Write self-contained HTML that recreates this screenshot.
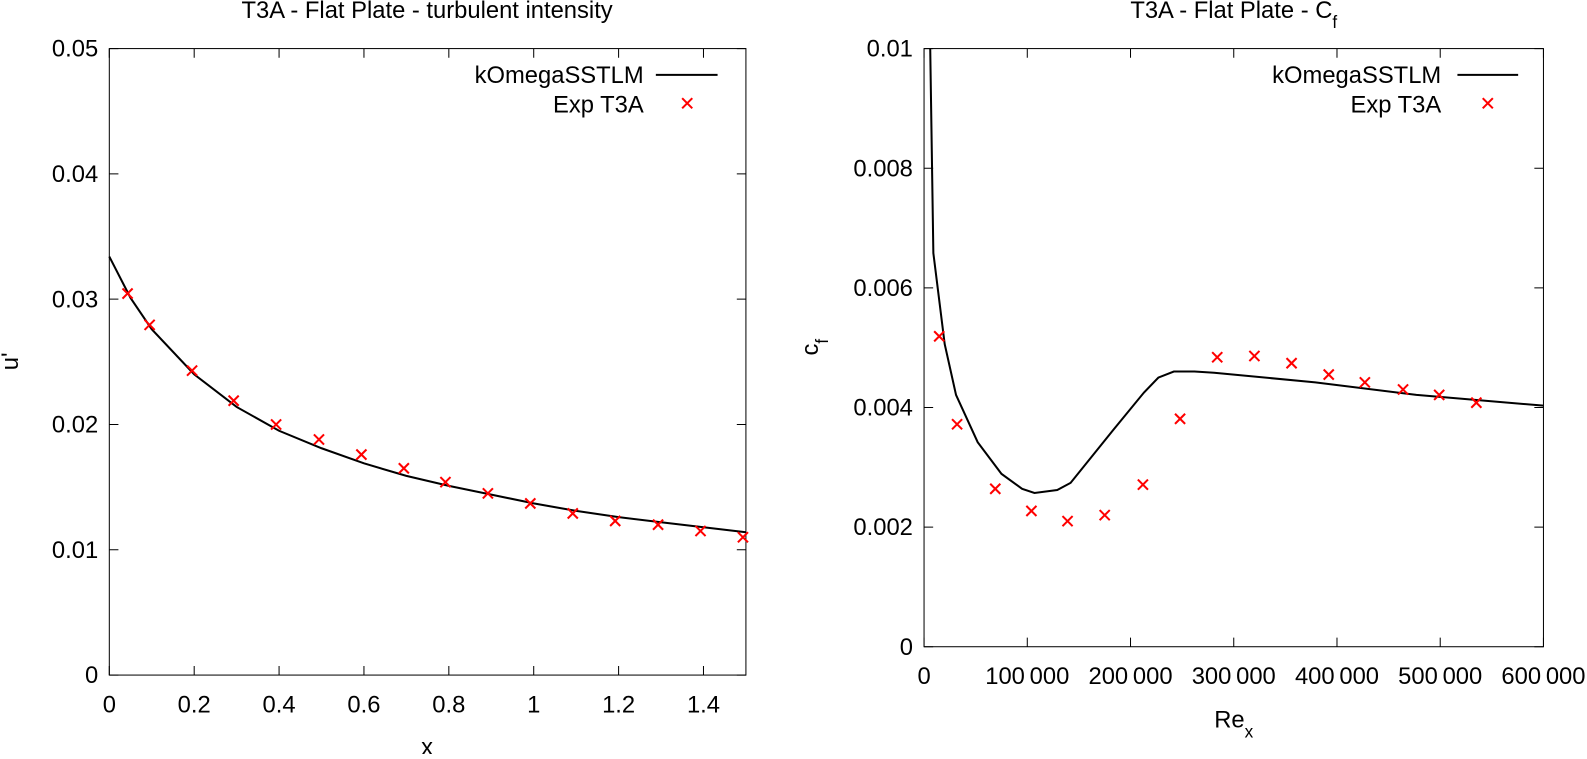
<!DOCTYPE html>
<html><head><meta charset="utf-8"><style>
body{margin:0;background:#fff}
svg text{font-family:"Liberation Sans",sans-serif;font-size:23.5px;fill:#000}
</style></head><body>
<svg width="1587" height="754"><g id="s" transform="scale(1.0121)"></g></svg>
<script>
// Left chart data
const leftCurveX=[0,0.05,0.1,0.2,0.3,0.4,0.5,0.6,0.7,0.8,0.9,1.0,1.1,1.2,1.3,1.4,1.5];
const leftCurveY=[0.0334,0.0301,0.0276,0.0240,0.0214,0.0195,0.0181,0.0169,0.0159,0.0151,0.0144,0.0137,0.0131,0.0126,0.0122,0.0118,0.0114];
const leftExpX=[0.043,0.095,0.195,0.293,0.393,0.494,0.594,0.694,0.792,0.892,0.992,1.092,1.192,1.293,1.393,1.493];
const leftExpY=[0.03045,0.02795,0.0243,0.0219,0.0200,0.0188,0.0176,0.0165,0.0154,0.0145,0.0137,0.0129,0.0123,0.0120,0.0115,0.0110];
const leftXTicks=[0,0.2,0.4,0.6,0.8,1,1.2,1.4];
const leftXTickLabels=["0","0.2","0.4","0.6","0.8","1","1.2","1.4"];
const leftYTicks=[0,0.01,0.02,0.03,0.04,0.05];
const leftYTickLabels=["0","0.01","0.02","0.03","0.04","0.05"];
// Right chart data
const rightCurveX=[6000,9000,20000,31000,52000,75000,95000,107000,129000,142000,183000,213000,227000,242000,262000,281000,379000,477000,600000];
const rightCurveY=[0.01,0.00658,0.00506,0.00421,0.00342,0.00289,0.00264,0.00257,0.00262,0.00274,0.00362,0.00425,0.0045,0.0046,0.0046,0.00458,0.00442,0.00421,0.00403];
const rightExpX=[14700,32000,69000,104000,139000,175000,212000,248000,284000,320000,356000,392000,427000,464000,499000,535000];
const rightExpY=[0.00519,0.00372,0.00264,0.00227,0.00210,0.00220,0.00271,0.00381,0.00484,0.00486,0.00474,0.00455,0.00442,0.00430,0.00421,0.00408];
const rightXTicks=[0,100000,200000,300000,400000,500000,600000];
const rightXTickLabels=["0","100\u2009000","200\u2009000","300\u2009000","400\u2009000","500\u2009000","600\u2009000"];
const rightYTicks=[0,0.002,0.004,0.006,0.008,0.01];
const rightYTickLabels=["0","0.002","0.004","0.006","0.008","0.01"];

const S=document.getElementById('s');const NS='http://www.w3.org/2000/svg';
function mk(t,a,txt){const e=document.createElementNS(NS,t);for(const k in a)e.setAttribute(k,a[k]);if(txt!==undefined)e.textContent=txt;S.appendChild(e);return e;}
function plot(p){
 const sx=v=>p.x0+(v-p.xmin)/(p.xmax-p.xmin)*(p.x1-p.x0);
 const sy=v=>p.y0-(v-p.ymin)/(p.ymax-p.ymin)*(p.y0-p.y1);
 let f=mk('rect',{x:p.x0,y:p.y1,width:p.x1-p.x0,height:p.y0-p.y1,fill:'none',stroke:'#000','stroke-width':1});
 
 p.xt.forEach((v,i)=>{const x=sx(v);
  let t=mk('path',{d:`M${x},${p.y0}v-9M${x},${p.y1}v9`,stroke:'#000'});
  let l=mk('text',{x:x,y:p.y0+37,'text-anchor':'middle'},p.xl[i]);});
 p.yt.forEach((v,i)=>{const y=sy(v);
  let t=mk('path',{d:`M${p.x0},${y}h9M${p.x1},${y}h-9`,stroke:'#000'});
  let l=mk('text',{x:p.x0-11,y:y+8,'text-anchor':'end'},p.yl[i]);});
 let d=p.cx.map((v,i)=>(i?'L':'M')+sx(v).toFixed(1)+','+sy(p.cy[i]).toFixed(1)).join('');
 let c=mk('path',{d:d,fill:'none',stroke:'#000','stroke-width':2});
 p.ex.forEach((v,i)=>{const x=sx(v),y=sy(p.ey[i]);
  let m=mk('path',{d:`M${x-5},${y-5}L${x+5},${y+5}M${x-5},${y+5}L${x+5},${y-5}`,stroke:'#f00','stroke-width':2});});
}
plot({n:'left',x0:108,x1:737,y0:667,y1:48,xmin:0,xmax:1.5,ymin:0,ymax:0.05,xt:leftXTicks,xl:leftXTickLabels,yt:leftYTicks,yl:leftYTickLabels,cx:leftCurveX,cy:leftCurveY,ex:leftExpX,ey:leftExpY});
plot({n:'right',x0:913,x1:1525,y0:639,y1:48,xmin:0,xmax:600000,ymin:0,ymax:0.01,xt:rightXTicks,xl:rightXTickLabels,yt:rightYTicks,yl:rightYTickLabels,cx:rightCurveX,cy:rightCurveY,ex:rightExpX,ey:rightExpY});
</script>
<script>
(function(){
const S=document.getElementById('s');const NS='http://www.w3.org/2000/svg';
function t(x,y,s,a,name,extra){const e=document.createElementNS(NS,'text');e.setAttribute('x',x);e.setAttribute('y',y);e.setAttribute('text-anchor',a||'middle');if(extra)for(const k in extra)e.setAttribute(k,extra[k]);e.innerHTML=s;


S.appendChild(e);return e;}
function p(d,st,w,name){const e=document.createElementNS(NS,'path');e.setAttribute('d',d);e.setAttribute('stroke',st);e.setAttribute('stroke-width',w);


S.appendChild(e);}
t(422,18,'T3A - Flat Plate - turbulent intensity','middle','left-title');
t(1219,18,'T3A - Flat Plate - C<tspan baseline-shift="sub" font-size="17">f</tspan>','middle','right-title');
t(422,746,'x','middle','left-x-axis-title');
t(1219,719,'Re<tspan baseline-shift="sub" font-size="17">x</tspan>','middle','right-x-axis-title');
t(18,357,"u'",'middle','left-y-axis-title',{transform:'rotate(-90 18 357)'});
t(808,343,'c<tspan baseline-shift="sub" font-size="17">f</tspan>','middle','right-y-axis-title',{transform:'rotate(-90 808 343)'});
t(636,82,'kOmegaSSTLM','end','left-legend-line-label');
t(636,111,'Exp T3A','end','left-legend-exp-label');
p('M648,74H709','#000',2,'left-legend-line-sample');
p('M674,97L684,107M674,107L684,97','#f00',2,'left-legend-exp-marker');
t(1424,82,'kOmegaSSTLM','end','right-legend-line-label');
t(1424,111,'Exp T3A','end','right-legend-exp-label');
p('M1440,74H1500','#000',2,'right-legend-line-sample');
p('M1465,97L1475,107M1465,107L1475,97','#f00',2,'right-legend-exp-marker');
})();
</script>
</body></html>
